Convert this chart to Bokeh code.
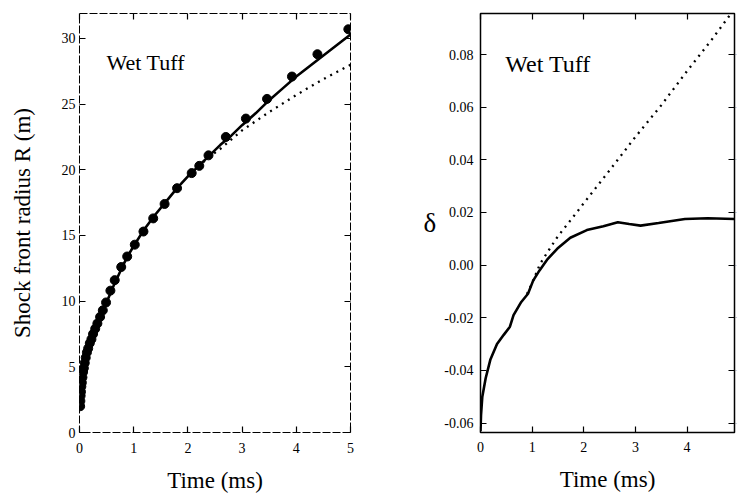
from bokeh.plotting import figure
from bokeh.layouts import row
from bokeh.models import Range1d, LinearAxis, FixedTicker, Label, NumeralTickFormatter, CustomJSTickFormatter
from bokeh.embed import file_html
from bokeh.resources import INLINE

FONT = "Liberation Serif"

# ---------------- left panel: shock front radius ----------------
t_fit = [0.0, 0.01, 0.03, 0.06, 0.1, 0.15, 0.2, 0.3, 0.4, 0.5, 0.6, 0.7, 0.8, 0.9, 1.0,
         1.2, 1.4, 1.6, 1.8, 2.0, 2.2, 2.4, 2.6, 2.8, 3.0, 3.25, 3.5, 3.75, 4.0, 4.25,
         4.5, 4.75, 5.0]
R_fit = [1.9, 2.1, 3.1, 4.3, 5.3, 6.1, 6.8, 7.9, 8.9, 9.9, 10.9, 11.8, 12.7, 13.5, 14.2,
         15.5, 16.6, 17.6, 18.6, 19.5, 20.3, 21.1, 21.9, 22.6, 23.4, 24.3, 25.3, 26.2, 27.1, 27.9,
         28.7, 29.5, 30.3]

t_pts = [0.012, 0.016, 0.021, 0.027, 0.034, 0.043, 0.054, 0.066, 0.08, 0.097, 0.115, 0.137,
         0.16, 0.19, 0.22, 0.25, 0.29, 0.33, 0.38, 0.43, 0.49, 0.57, 0.65, 0.77, 0.88, 1.02,
         1.18, 1.36, 1.57, 1.80, 2.07, 2.21, 2.38, 2.70, 3.07, 3.46, 3.92, 4.39, 4.96]
R_pts = [2.0, 2.4, 2.8, 3.1, 3.5, 3.8, 4.2, 4.6, 4.9, 5.3, 5.7, 6.1,
         6.4, 6.8, 7.1, 7.5, 7.9, 8.3, 8.8, 9.3, 9.9, 10.8, 11.6, 12.6, 13.4, 14.3,
         15.3, 16.3, 17.4, 18.6, 19.75, 20.3, 21.1, 22.5, 23.9, 25.4, 27.1, 28.8, 30.7]

t_ext = [2.0, 2.2, 2.4, 2.6, 3.0, 3.5, 4.0, 4.5, 5.0]
R_ext = [19.5, 20.3, 21.0, 21.6, 23.0, 24.4, 25.7, 26.9, 28.0]

x_ticks_left = [0, 1, 2, 3, 4, 5]
y_ticks_left = [0, 5, 10, 15, 20, 25, 30]

# ---------------- right panel: delta ----------------
t_delta = [0.0, 0.01, 0.035, 0.10, 0.19, 0.32, 0.45, 0.57, 0.64, 0.79, 0.92, 1.02, 1.14,
           1.30, 1.49, 1.74, 2.06, 2.38, 2.66, 2.88, 3.10, 3.45, 3.96, 4.40, 4.92]
delta_solid = [-0.063, -0.057, -0.050, -0.043, -0.036, -0.030, -0.0265, -0.0234, -0.019,
               -0.014, -0.0109, -0.0059, -0.0021, 0.0023, 0.0063, 0.0104, 0.0133, 0.0148,
               0.0163, 0.0156, 0.0150, 0.0160, 0.0175, 0.0178, 0.0175]

t_delta_dot = [0.9, 1.02, 1.15, 1.3, 1.5, 1.75, 2.0, 2.32, 2.5, 3.0, 3.5, 4.0, 4.5, 5.0]
delta_dot = [-0.011, -0.0059, 0.0003, 0.005, 0.011, 0.0172, 0.0235, 0.0315, 0.036,
             0.0487, 0.0607, 0.0737, 0.0862, 0.0995]

x_ticks_right = [0, 1, 2, 3, 4]
y_ticks_right = [-0.06, -0.04, -0.02, 0.0, 0.02, 0.04, 0.06, 0.08]

panel_label = "Wet Tuff"


def style(p, xt, yt, xlabel, ylabel, tick_fs, label_fs, xl_standoff, yl_standoff, tl_standoff_x, tl_standoff_y):
    p.grid.visible = False
    p.background_fill_color = "white"
    p.border_fill_color = "white"
    p.xaxis.ticker = FixedTicker(ticks=xt)
    p.yaxis.ticker = FixedTicker(ticks=yt)
    for ax in p.xaxis + p.yaxis:
        ax.major_tick_in = 6
        ax.major_tick_out = 0
        ax.minor_tick_line_color = None
        ax.axis_line_color = None
        ax.major_tick_line_color = "black"
        ax.major_tick_line_width = 1.2
        ax.major_label_text_font = FONT
        ax.major_label_text_font_size = tick_fs
        ax.major_label_text_color = "black"
        ax.axis_label_text_font = FONT
        ax.axis_label_text_font_size = label_fs
        ax.axis_label_text_font_style = "normal"
        ax.axis_label_text_color = "black"
    p.xaxis.axis_label = xlabel
    p.xaxis.axis_label_standoff = xl_standoff
    p.xaxis.major_label_standoff = tl_standoff_x
    p.yaxis.major_label_standoff = tl_standoff_y
    p.yaxis.axis_label = ylabel
    p.yaxis.axis_label_standoff = yl_standoff
    blank = CustomJSTickFormatter(code="return ''")
    for loc, ticks in (("above", xt), ("right", yt)):
        ax = LinearAxis(ticker=FixedTicker(ticks=ticks), formatter=blank,
                        major_tick_in=6, major_tick_out=0, major_label_standoff=0,
                        minor_tick_line_color=None, axis_line_color=None,
                        major_tick_line_color="black", major_tick_line_width=1.2,
                        major_label_text_font_size="1px")
        p.add_layout(ax, loc)


# ---------- left figure ----------
p1 = figure(width=420, height=498, output_backend="svg", toolbar_location=None,
            x_range=Range1d(0, 5), y_range=Range1d(0, 31.9),
            min_border_left=79, min_border_right=70, min_border_top=13, min_border_bottom=66)
style(p1, x_ticks_left, y_ticks_left, "Time (ms)", "Shock front radius R (m)",
      "14px", "23px", 12, 24, 10, 4)
p1.outline_line_color = "black"
p1.outline_line_width = 1
p1.outline_line_dash = "8 2"

p1.line(t_ext, R_ext, line_color="black", line_width=2.3, line_dash="2 5")
p1.line(t_fit, R_fit, line_color="black", line_width=2.6)
p1.scatter(t_pts, R_pts, size=9, marker="circle", fill_color="black", line_color="black")
p1.add_layout(Label(x=0.5, y=28.2, text=panel_label, text_font=FONT, text_font_size="22px",
                    text_color="black", text_baseline="alphabetic"))

# ---------- right figure ----------
p2 = figure(width=319, height=498, output_backend="svg", toolbar_location=None,
            x_range=Range1d(0, 4.92), y_range=Range1d(-0.0636, 0.0956),
            min_border_left=60, min_border_right=0, min_border_top=13, min_border_bottom=66)
style(p2, x_ticks_right, y_ticks_right, "Time (ms)", "δ",
      "14px", "23px", 12, 5, 9, 7)
p2.yaxis.axis_label_text_font_size = "27px"
try:
    p2.yaxis.axis_label_orientation = "horizontal"
except Exception:
    pass
p2.yaxis.formatter = NumeralTickFormatter(format="0.00")
p2.outline_line_color = "black"
p2.outline_line_width = 1.5

p2.line(t_delta_dot, delta_dot, line_color="black", line_width=2.3, line_dash="2 5")
p2.line(t_delta, delta_solid, line_color="black", line_width=2.6)
p2.add_layout(Label(x=0.48, y=0.0765, text=panel_label, text_font=FONT, text_font_size="24px",
                    text_color="black", text_baseline="alphabetic"))

layout = row(p1, p2)
open("out.html", "w").write(file_html(layout, INLINE))
